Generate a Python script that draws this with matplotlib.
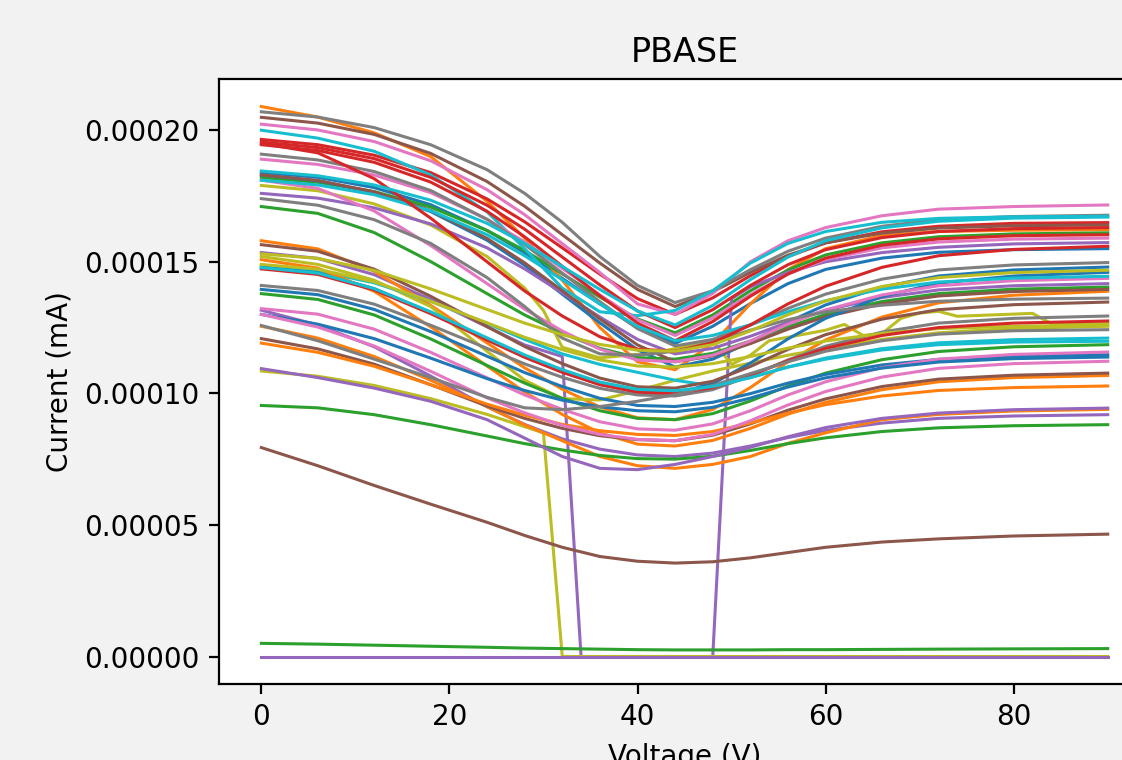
import matplotlib
matplotlib.use("Agg")
import matplotlib.pyplot as plt
import numpy as np

# currents in units of 1e-5 mA
SCALE = 1e-5

VOLT = [0, 6, 12, 18, 24, 28, 32, 36, 40, 44, 48, 52, 56, 60, 66, 72, 80, 90]

BLUE = [
    [18.4, 18.21, 17.82, 17.17, 16.19, 15.35, 14.37, 13.4, 12.49, 11.9, 12.55, 13.41, 14.17, 14.71, 15.14, 15.36, 15.46, 15.5],
    [18.3, 18.08, 17.64, 16.91, 15.82, 14.87, 13.77, 12.68, 11.66, 11.0, 11.3, 11.95, 12.71, 13.36, 14.04, 14.46, 14.69, 14.8],
    [14.8, 14.58, 13.98, 13.07, 12.06, 11.39, 10.82, 10.34, 10.05, 10.0, 10.37, 11.15, 12.07, 12.85, 13.68, 14.19, 14.46, 14.6],
    [13.95, 13.75, 13.19, 12.35, 11.41, 10.79, 10.26, 9.81, 9.54, 9.5, 9.66, 9.99, 10.39, 10.72, 11.08, 11.29, 11.41, 11.47],
    [13.0, 12.63, 12.08, 11.34, 10.56, 10.11, 9.74, 9.49, 9.34, 9.3, 9.47, 9.82, 10.24, 10.59, 10.96, 11.19, 11.32, 11.38],
]
ORANGE = [
    [20.9, 20.5, 19.9, 19.0, 17.3, 15.9, 14.3, 12.5, 11.2, 10.9, 11.9, 13.4, 14.7, 15.5, 16.0, 16.15, 16.2, 16.22],
    [15.8, 15.49, 14.64, 13.35, 11.92, 10.97, 10.16, 9.48, 9.07, 9.0, 9.39, 10.22, 11.2, 12.03, 12.9, 13.44, 13.73, 13.88],
    [15.08, 14.76, 13.88, 12.53, 11.04, 10.05, 9.2, 8.5, 8.07, 8.0, 8.21, 8.67, 9.21, 9.66, 10.14, 10.44, 10.6, 10.68],
    [12.55, 12.1, 11.4, 10.5, 9.5, 8.8, 8.2, 7.6, 7.25, 7.15, 7.3, 7.6, 8.1, 8.5, 9.0, 9.2, 9.33, 9.39],
    [11.91, 11.56, 11.03, 10.33, 9.59, 9.17, 8.82, 8.58, 8.44, 8.4, 8.55, 8.87, 9.25, 9.57, 9.9, 10.11, 10.22, 10.28],
]
GREEN = [
    [18.2, 18.02, 17.67, 17.08, 16.19, 15.43, 14.54, 13.66, 12.83, 12.3, 12.98, 13.9, 14.69, 15.26, 15.72, 15.95, 16.06, 16.1],
    [17.1, 16.84, 16.11, 15.01, 13.79, 12.98, 12.29, 11.71, 11.36, 11.3, 11.52, 11.99, 12.53, 13.0, 13.49, 13.79, 13.96, 14.04],
    [13.79, 13.57, 12.98, 12.07, 11.06, 10.39, 9.81, 9.34, 9.05, 9.0, 9.23, 9.71, 10.28, 10.77, 11.28, 11.59, 11.77, 11.85],
    [9.54, 9.45, 9.19, 8.81, 8.38, 8.09, 7.85, 7.64, 7.52, 7.5, 7.61, 7.83, 8.09, 8.31, 8.55, 8.69, 8.77, 8.81],
    [0.5, 0.47, 0.43, 0.39, 0.35, 0.32, 0.3, 0.28, 0.26, 0.25, 0.25, 0.25, 0.26, 0.26, 0.27, 0.28, 0.29, 0.3],
]
RED = [
    [19.65, 19.45, 19.05, 18.39, 17.39, 16.52, 15.53, 14.53, 13.6, 13.0, 13.63, 14.47, 15.2, 15.72, 16.14, 16.35, 16.46, 16.49],
    [19.55, 19.34, 18.92, 18.21, 17.15, 16.24, 15.18, 14.12, 13.13, 12.5, 13.18, 14.1, 14.89, 15.46, 15.92, 16.15, 16.26, 16.3],
    [19.45, 19.23, 18.78, 18.03, 16.92, 15.95, 14.83, 13.71, 12.67, 12.0, 12.73, 13.69, 14.54, 15.14, 15.63, 15.87, 15.99, 16.03],
    [19.5, 19.14, 18.16, 16.66, 15.0, 13.89, 12.94, 12.15, 11.68, 11.6, 11.92, 12.6, 13.4, 14.07, 14.79, 15.23, 15.47, 15.59],
    [14.73, 14.52, 13.93, 13.03, 12.03, 11.37, 10.8, 10.33, 10.05, 10.0, 10.22, 10.69, 11.24, 11.71, 12.2, 12.5, 12.67, 12.75],
]
PURPLE = [
    [17.6, 17.42, 17.05, 16.44, 15.53, 14.73, 13.82, 12.9, 12.05, 11.5, 11.71, 12.17, 12.7, 13.16, 13.64, 13.93, 14.09, 14.17],
    [13.16, 12.6, 11.77, 10.66, 9.49, 8.82, 8.27, 7.88, 7.66, 7.6, 7.73, 8.0, 8.32, 8.59, 8.87, 9.05, 9.14, 9.19],
    [10.94, 10.6, 10.2, 9.7, 9.0, 8.3, 7.6, 7.15, 7.1, 7.3, 7.6, 7.95, 8.35, 8.7, 9.05, 9.25, 9.38, 9.44],
    [0, 0, 0, 0, 0, 0, 0, 0, 0, 0, 0, 0, 0, 0, 0, 0, 0, 0],
]
BROWN = [
    [20.49, 20.27, 19.84, 19.12, 18.05, 17.11, 16.03, 14.95, 13.95, 13.3, 13.86, 14.6, 15.25, 15.72, 16.09, 16.28, 16.37, 16.4],
    [18.3, 18.09, 17.66, 16.95, 15.89, 14.96, 13.9, 12.83, 11.84, 11.2, 11.42, 11.89, 12.44, 12.91, 13.4, 13.7, 13.87, 13.95],
    [15.65, 15.4, 14.72, 13.69, 12.54, 11.78, 11.13, 10.58, 10.25, 10.2, 10.46, 11.02, 11.67, 12.23, 12.82, 13.18, 13.37, 13.47],
    [12.08, 11.69, 11.11, 10.33, 9.52, 9.05, 8.67, 8.39, 8.24, 8.2, 8.41, 8.84, 9.36, 9.79, 10.26, 10.54, 10.69, 10.77],
    [7.94, 7.25, 6.5, 5.79, 5.1, 4.6, 4.15, 3.8, 3.62, 3.55, 3.6, 3.75, 3.95, 4.15, 4.35, 4.47, 4.58, 4.65],
]
PINK = [
    [20.23, 20.01, 19.57, 18.84, 17.74, 16.79, 15.69, 14.59, 13.4, 13.0, 13.8, 15.0, 15.8, 16.3, 16.75, 17.0, 17.1, 17.16],
    [18.9, 18.7, 18.3, 17.63, 16.62, 15.75, 14.75, 13.74, 12.8, 12.2, 12.87, 13.75, 14.53, 15.09, 15.53, 15.75, 15.86, 15.9],
    [18.1, 17.79, 16.93, 15.62, 14.17, 13.2, 12.37, 11.68, 11.27, 11.2, 11.45, 11.99, 12.63, 13.17, 13.74, 14.09, 14.28, 14.37],
    [13.22, 13.01, 12.44, 11.56, 10.59, 9.94, 9.39, 8.92, 8.65, 8.6, 8.84, 9.34, 9.94, 10.44, 10.98, 11.3, 11.48, 11.57],
    [13.0, 12.52, 11.8, 10.84, 9.83, 9.26, 8.78, 8.44, 8.25, 8.2, 8.44, 8.96, 9.56, 10.07, 10.62, 10.95, 11.13, 11.22],
]
GRAY = [
    [20.7, 20.5, 20.1, 19.45, 18.5, 17.6, 16.5, 15.2, 14.1, 13.45, 13.9, 14.7, 15.4, 15.9, 16.35, 16.6, 16.72, 16.77],
    [19.09, 18.87, 18.43, 17.71, 16.61, 15.66, 14.57, 13.48, 12.46, 11.8, 12.05, 12.59, 13.23, 13.77, 14.34, 14.69, 14.88, 14.97],
    [17.4, 17.15, 16.6, 15.7, 14.4, 13.3, 12.1, 11.5, 11.45, 11.6, 11.95, 12.4, 12.8, 13.1, 13.35, 13.5, 13.58, 13.62],
    [14.1, 13.91, 13.39, 12.59, 11.71, 11.12, 10.61, 10.19, 9.94, 9.9, 10.14, 10.66, 11.27, 11.79, 12.33, 12.67, 12.85, 12.94],
    [12.58, 12.0, 11.3, 10.6, 9.85, 9.45, 9.38, 9.5, 9.7, 9.95, 10.3, 10.75, 11.2, 11.6, 12.0, 12.25, 12.38, 12.42],
]
OLIVE = [
    [15.2, 14.9, 14.3, 13.3, 11.6, 10.5, 9.8, 9.75, 10.1, 10.5, 10.85, 11.15, 11.45, 11.7, 12.05, 12.3, 12.47, 12.55],
    [14.9, 14.72, 14.24, 13.5, 12.68, 12.13, 11.66, 11.27, 11.04, 11.0, 11.13, 11.4, 11.72, 11.99, 12.28, 12.46, 12.55, 12.6],
    [15.3, 15.13, 14.67, 13.97, 13.19, 12.67, 12.23, 11.86, 11.64, 11.6, 11.85, 12.37, 12.99, 13.51, 14.06, 14.4, 14.59, 14.68],
]
CYAN = [
    [20.0, 19.7, 19.2, 18.3, 16.9, 15.5, 14.0, 13.1, 12.95, 13.15, 13.9, 14.95, 15.7, 16.15, 16.5, 16.65, 16.71, 16.73],
    [14.87, 14.65, 14.2, 13.5, 12.66, 12.05, 11.5, 11.1, 10.8, 10.5, 10.28, 10.6, 11.0, 11.3, 11.65, 11.85, 11.95, 11.98],
    [18.1, 17.92, 17.55, 16.94, 16.03, 15.23, 14.32, 13.4, 12.55, 12.0, 12.2, 12.61, 13.1, 13.52, 13.96, 14.23, 14.38, 14.45],
    [18.45, 18.27, 17.92, 17.34, 16.46, 15.7, 14.82, 13.95, 13.13, 12.6, 13.34, 14.32, 15.18, 15.8, 16.29, 16.54, 16.66, 16.7],
    [14.78, 14.57, 13.98, 13.1, 12.11, 11.46, 10.9, 10.43, 10.15, 10.1, 10.26, 10.6, 11.0, 11.34, 11.7, 11.92, 12.04, 12.1],
]

# sweeps with glitches, sampled on their own voltages
PURPLE_GAP_V = [0, 6, 12, 18, 24, 28, 32, 34, 48, 50, 52, 56, 60, 66, 72, 80, 90]
PURPLE_GAP = [15.35, 15.13, 14.51, 13.57, 12.53, 11.84, 11.4, 0, 0, 13.6, 14.05, 14.6, 15.0,
              15.35, 15.55, 15.68, 15.73]

OLIVE_NOISY_V = [0, 6, 12, 18, 24, 28, 30, 32, 36, 42, 48, 50, 52, 54, 60, 62, 64, 66,
                 68, 70, 72, 74, 82, 84, 90]
OLIVE_NOISY = [17.9, 17.7, 17.2, 16.4, 15.2, 14.0, 13.15, 11.75, 11.35, 11.55, 12.0, 11.1,
               11.45, 12.0, 12.4, 12.62, 12.2, 12.27, 12.85, 13.05, 13.12, 12.93, 13.04,
               12.65, 12.65]

OLIVE_DROP_V = [0, 6, 12, 18, 24, 30, 32, 90]
OLIVE_DROP = [10.85, 10.65, 10.3, 9.8, 9.2, 8.5, 0, 0]

groups = [
    [(VOLT, c) for c in BLUE],
    [(VOLT, c) for c in ORANGE],
    [(VOLT, c) for c in GREEN],
    [(VOLT, c) for c in RED],
    [(PURPLE_GAP_V, PURPLE_GAP)] + [(VOLT, c) for c in PURPLE],
    [(VOLT, c) for c in BROWN],
    [(VOLT, c) for c in PINK],
    [(VOLT, c) for c in GRAY],
    [(OLIVE_NOISY_V, OLIVE_NOISY), (VOLT, OLIVE[0]), (OLIVE_DROP_V, OLIVE_DROP),
     (VOLT, OLIVE[1]), (VOLT, OLIVE[2])],
    [(VOLT, c) for c in CYAN],
]

fig = plt.figure(figsize=(5.61, 3.8), dpi=200, facecolor='#f2f2f2')
ax = fig.add_axes([0.1952, 0.1, 0.8298, 0.796])

for k in range(5):
    for c, g in enumerate(groups):
        v, cur = g[k]
        ax.plot(v, np.array(cur) * SCALE, color=f'C{c}', lw=1.1)

ax.set_title('PBASE')
ax.set_xlabel('Voltage (V)')
ax.set_ylabel('Current (mA)')

fig.savefig('out.png', dpi=200, facecolor=fig.get_facecolor())
